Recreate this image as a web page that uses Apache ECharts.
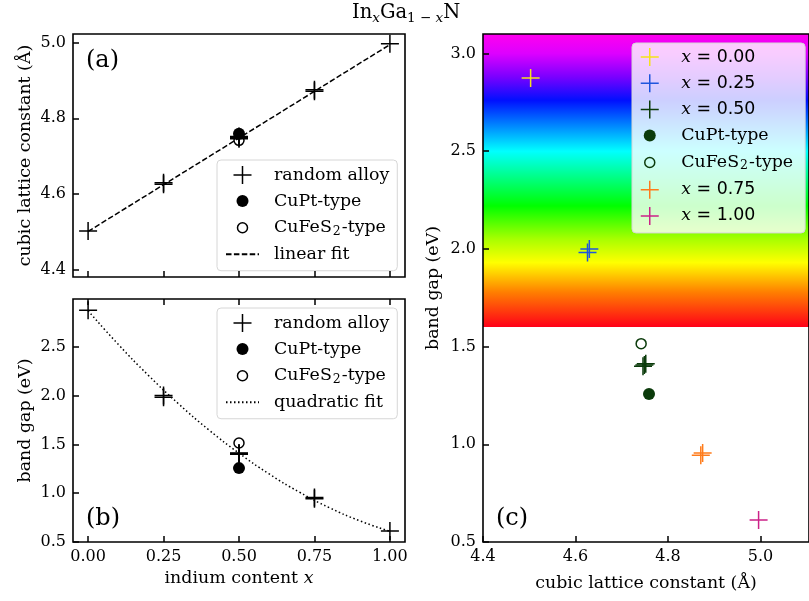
<!DOCTYPE html>
<html>
<head>
<meta charset="utf-8">
<script src="https://cdn.jsdelivr.net/npm/echarts@6.0.0/dist/echarts.min.js"></script>
<style>
html, body { margin: 0; padding: 0; background: #fff; }
#main { width: 809px; height: 601px; }
</style>
</head>
<body>
<div id="main"></div>
<script>
// indium content x and tick values
const contentTicks = [0, 0.25, 0.5, 0.75, 1.0]
const latticeTicks = [4.4, 4.6, 4.8, 5.0]
const gapTicksB = [0.5, 1.0, 1.5, 2.0, 2.5]
const gapTicksC = [0.5, 1.0, 1.5, 2.0, 2.5, 3.0]

// random alloy samples (several configs per composition)
const alloyX       = [0,     0.25,  0.25,  0.5,   0.5,   0.5,   0.75,  0.75,  1.0]
const alloyLattice = [4.503, 4.626, 4.630, 4.746, 4.749, 4.752, 4.871, 4.875, 4.996]
const alloyGap     = [2.875, 1.982, 2.000, 1.400, 1.406, 1.412, 0.944, 0.955, 0.612]

// ordered structures at x = 0.5
const cuptX = [0.5]
const cuptLattice = [4.759]
const cuptGap = [1.257]
const chalcoX = [0.5]
const chalcoLattice = [4.742]
const chalcoGap = [1.515]

// fits
const linFitX = [0, 1.0]
const linFit = [4.502, 4.994]
const quadFitX = [0, 0.1, 0.2, 0.3, 0.4, 0.5, 0.6, 0.7, 0.8, 0.9, 1.0]
const quadFit  = [2.87, 2.525, 2.207, 1.915, 1.649, 1.41, 1.197, 1.011, 0.851, 0.717, 0.61]

// panel (c) compositions
const compLabels = ['0.00', '0.25', '0.50', '0.75', '1.00']
const compColors = ['#f4e21c', '#1f55dd', '#0b3b0b', '#ff7b1a', '#cc2288']

// visible spectrum band behind panel (c)
const spectrumGap   = [3.1, 3.0, 2.88, 2.76, 2.5, 2.22, 2.05, 1.93, 1.78, 1.6]
const spectrumColor = ['#ff00ee', '#dd00ff', '#7a00ff', '#0010ff', '#00ffff', '#00ff00', '#a8ff00', '#ffff00', '#ff8000', '#ff0018']

const plusPath = 'path://M8.25,0H9.75V8.25H18V9.75H9.75V18H8.25V9.75H0V8.25H8.25Z'
const dotIcon = 'path://M0,0M18,18M3,9A6,6,0,1,0,15,9A6,6,0,1,0,3,9Z'
const ringIcon = 'path://M0,0M18,18M4,9A5,5,0,1,0,14,9A5,5,0,1,0,4,9Z'

const pts = (xs, ys) => xs.map((v, i) => [v, ys[i]])

var chart = echarts.init(document.getElementById('main'))

const font = 'DejaVu Serif'
const big = 17.4
const tickStyle = { inside: true, length: 6, lineStyle: { color: '#000', width: 1.5 } }
const labelStyle = { color: '#000', fontSize: 16, fontFamily: font, margin: 7 }
const nameStyle = { color: '#000', fontSize: big, fontFamily: font }
const noLine = { show: false, onZero: false }
const gridBox = { show: true, borderColor: '#000', borderWidth: 1.6, backgroundColor: 'transparent', z: 5 }

const legendText = {
    'random alloy': 'random alloy',
    'CuPt-type': 'CuPt-type',
    'CuFeS₂-type': '{n|CuFeS}{s|2}{n|-type}',
    'linear fit': 'linear fit',
    'quadratic fit': 'quadratic fit',
    'c CuPt': 'CuPt-type',
    'c CuFeS': '{n|CuFeS}{s|2}{n|-type}'
}
compLabels.forEach(l => { legendText['x' + l] = '{i|x}{d| = ' + l + '}' })

const legendBase = {
    orient: 'vertical',
    itemWidth: 33,
    itemHeight: 18,
    itemGap: 8,
    padding: [6, 8, 8, 8],
    backgroundColor: 'rgba(255,255,255,0.8)',
    borderColor: '#d6d6d6',
    borderWidth: 1,
    borderRadius: 4,
    selectedMode: false,
    formatter: name => legendText[name] || name,
    textStyle: {
        color: '#000', fontSize: big, fontFamily: font, padding: [0, 0, 0, 10],
        rich: {
            n: { fontSize: big, fontFamily: font, color: '#000', lineHeight: 20 },
            s: { fontSize: 12.5, fontFamily: font, color: '#000', lineHeight: 12, verticalAlign: 'bottom', padding: [0, 1, 0, 1] },
            i: { fontSize: big, fontFamily: font, fontStyle: 'italic', color: '#000' },
            d: { fontSize: big, fontFamily: 'DejaVu Sans', color: '#000' }
        }
    }
}

// panel (a)/(b) series
function panelSeries(gi, ys, fitName, fitData, fitType) {
    return [
        {
            name: fitName, type: 'line', xAxisIndex: gi, yAxisIndex: gi,
            data: fitData, showSymbol: false, symbol: 'none', smooth: fitType !== 'dash',
            itemStyle: { color: 'rgba(0,0,0,0)', borderWidth: 0 },
            lineStyle: { color: '#000', width: 1.5, type: fitType === 'dash' ? [5.5, 2.4] : [1.5, 2.5] },
            z: 1
        },
        {
            name: 'random alloy', type: 'scatter', xAxisIndex: gi, yAxisIndex: gi,
            data: pts(alloyX, ys[0]), symbol: plusPath, symbolSize: 18,
            itemStyle: { color: '#000', opacity: 1 }
        },
        {
            name: 'CuPt-type', type: 'scatter', xAxisIndex: gi, yAxisIndex: gi,
            data: pts(cuptX, ys[1]), symbol: 'circle', symbolSize: 12,
            itemStyle: { color: '#000', opacity: 1 }
        },
        {
            name: 'CuFeS₂-type', type: 'scatter', xAxisIndex: gi, yAxisIndex: gi,
            data: pts(chalcoX, ys[2]), symbol: 'circle', symbolSize: 10,
            itemStyle: { color: 'rgba(0,0,0,0)', borderColor: '#000', borderWidth: 1.5, opacity: 1 }
        }
    ]
}

let series = []
series = series.concat(panelSeries(0, [alloyLattice, cuptLattice, chalcoLattice], 'linear fit', pts(linFitX, linFit), 'dash'))
series = series.concat(panelSeries(1, [alloyGap, cuptGap, chalcoGap], 'quadratic fit', pts(quadFitX, quadFit), 'dot'))

// panel (c)
function compSeries(i) {
    const data = []
    alloyX.forEach((v, j) => {
        if (v === contentTicks[i]) data.push([alloyLattice[j], alloyGap[j]])
    })
    return {
        name: 'x' + compLabels[i], type: 'scatter', xAxisIndex: 3, yAxisIndex: 2,
        data: data, symbol: plusPath, symbolSize: 18,
        itemStyle: { color: compColors[i], opacity: 1 }
    }
}
const spectrumStops = spectrumGap.map((g, i) => ({
    offset: (spectrumGap[0] - g) / (spectrumGap[0] - spectrumGap[spectrumGap.length - 1]),
    color: spectrumColor[i]
}))
const first = compSeries(0)
first.markArea = {
    silent: true,
    itemStyle: {
        opacity: 1,
        color: { type: 'linear', x: 0, y: 0, x2: 0, y2: 1, colorStops: spectrumStops }
    },
    data: [[{ yAxis: spectrumGap[spectrumGap.length - 1] }, { yAxis: spectrumGap[0] }]]
}
series.push(first, compSeries(1), compSeries(2))
series.push({
    name: 'c CuPt', type: 'scatter', xAxisIndex: 3, yAxisIndex: 2,
    data: pts(cuptLattice, cuptGap), symbol: 'circle', symbolSize: 12,
    itemStyle: { color: compColors[2], opacity: 1 }
})
series.push({
    name: 'c CuFeS', type: 'scatter', xAxisIndex: 3, yAxisIndex: 2,
    data: pts(chalcoLattice, chalcoGap), symbol: 'circle', symbolSize: 10,
    itemStyle: { color: 'rgba(0,0,0,0)', borderColor: compColors[2], borderWidth: 1.5, opacity: 1 }
})
series.push(compSeries(3), compSeries(4))

const option = {
    animation: false,
    textStyle: { fontFamily: font },
    title: {
        text: '{m|In}{si|x}{m|Ga}{sn|1 − }{si|x}{m|N}',
        left: 352, top: 1, padding: 0,
        textStyle: {
            fontWeight: 'normal',
            rich: {
                m: { fontSize: 19.5, fontFamily: font, fontWeight: 'normal', color: '#000', lineHeight: 24 },
                si: { fontSize: 13.5, fontFamily: font, fontWeight: 'normal', fontStyle: 'italic', color: '#000', lineHeight: 13, verticalAlign: 'bottom' },
                sn: { fontSize: 13.5, fontFamily: font, fontWeight: 'normal', color: '#000', lineHeight: 13, verticalAlign: 'bottom' }
            }
        }
    },
    graphic: [
        { type: 'text', left: 86, top: 49, z: 10, style: { text: '(a)', fontSize: 24, fontFamily: font, fill: '#000' } },
        { type: 'text', left: 86, top: 507, z: 10, style: { text: '(b)', fontSize: 24, fontFamily: font, fill: '#000' } },
        { type: 'text', left: 496, top: 507, z: 10, style: { text: '(c)', fontSize: 24, fontFamily: font, fill: '#000' } }
    ],
    grid: [
        Object.assign({ left: 73, top: 34, width: 332, height: 243 }, gridBox),
        Object.assign({ left: 73, top: 299, width: 332, height: 243 }, gridBox),
        Object.assign({ left: 483, top: 34, width: 332, height: 508 }, gridBox)
    ],
    xAxis: [
        {
            gridIndex: 0, type: 'value', min: -0.05, max: 1.05, z: 6,
            axisLine: noLine, splitLine: { show: false },
            axisTick: Object.assign({ customValues: contentTicks }, tickStyle),
            axisLabel: { show: false }
        },
        {
            gridIndex: 1, type: 'value', min: -0.05, max: 1.05, z: 6,
            axisLine: noLine, splitLine: { show: false },
            axisTick: Object.assign({ customValues: contentTicks }, tickStyle),
            axisLabel: Object.assign({ customValues: contentTicks, formatter: v => v.toFixed(2) }, labelStyle),
            name: '{t|indium content }{i|x}', nameLocation: 'middle', nameGap: 28,
            nameTextStyle: Object.assign({
                rich: {
                    t: { fontSize: big, fontFamily: font, color: '#000' },
                    i: { fontSize: big, fontFamily: font, fontStyle: 'italic', color: '#000' }
                }
            }, nameStyle)
        },
        {
            gridIndex: 1, type: 'value', min: -0.05, max: 1.05, position: 'top', z: 6,
            axisLine: noLine, splitLine: { show: false },
            axisTick: Object.assign({ customValues: contentTicks }, tickStyle),
            axisLabel: { show: false }
        },
        {
            gridIndex: 2, type: 'value', min: 4.4, max: 5.105, z: 6,
            axisLine: noLine, splitLine: { show: false },
            axisTick: Object.assign({ customValues: latticeTicks }, tickStyle),
            axisLabel: Object.assign({ customValues: latticeTicks, formatter: v => v.toFixed(1) }, labelStyle),
            name: 'cubic lattice constant (Å)', nameLocation: 'middle', nameGap: 33,
            nameTextStyle: nameStyle
        }
    ],
    yAxis: [
        {
            gridIndex: 0, type: 'value', min: 4.382, max: 5.022, z: 6,
            axisLine: noLine, splitLine: { show: false },
            axisTick: Object.assign({ customValues: latticeTicks }, tickStyle),
            axisLabel: Object.assign({ customValues: latticeTicks, formatter: v => v.toFixed(1) }, labelStyle),
            name: 'cubic lattice constant (Å)', nameLocation: 'middle', nameGap: 39,
            nameTextStyle: nameStyle
        },
        {
            gridIndex: 1, type: 'value', min: 0.5, max: 2.99, z: 6,
            axisLine: noLine, splitLine: { show: false },
            axisTick: Object.assign({ customValues: gapTicksB }, tickStyle),
            axisLabel: Object.assign({ customValues: gapTicksB, formatter: v => v.toFixed(1) }, labelStyle),
            name: 'band gap (eV)', nameLocation: 'middle', nameGap: 39,
            nameTextStyle: nameStyle
        },
        {
            gridIndex: 2, type: 'value', min: 0.5, max: 3.1, z: 6,
            axisLine: noLine, splitLine: { show: false },
            axisTick: Object.assign({ customValues: gapTicksC }, tickStyle),
            axisLabel: Object.assign({ customValues: gapTicksC, formatter: v => v.toFixed(1) }, labelStyle),
            name: 'band gap (eV)', nameLocation: 'middle', nameGap: 41,
            nameTextStyle: nameStyle
        }
    ],
    legend: [
        Object.assign({}, legendBase, {
            left: 217, top: 160,
            data: [
                { name: 'random alloy', icon: plusPath },
                { name: 'CuPt-type', icon: dotIcon },
                { name: 'CuFeS₂-type', icon: ringIcon, itemStyle: { borderWidth: 1.5 } },
                { name: 'linear fit' }
            ]
        }),
        Object.assign({}, legendBase, {
            left: 217, top: 308,
            data: [
                { name: 'random alloy', icon: plusPath },
                { name: 'CuPt-type', icon: dotIcon },
                { name: 'CuFeS₂-type', icon: ringIcon, itemStyle: { borderWidth: 1.5 } },
                { name: 'quadratic fit' }
            ]
        }),
        Object.assign({}, legendBase, {
            left: 632, top: 43, padding: [5, 12, 8, 8], itemGap: 8.2,
            data: [
                { name: 'x0.00', icon: plusPath },
                { name: 'x0.25', icon: plusPath },
                { name: 'x0.50', icon: plusPath },
                { name: 'c CuPt', icon: dotIcon },
                { name: 'c CuFeS', icon: ringIcon, itemStyle: { borderWidth: 1.5 } },
                { name: 'x0.75', icon: plusPath },
                { name: 'x1.00', icon: plusPath }
            ]
        })
    ],
    series: series
}

option && chart.setOption(option)
</script>
</body>
</html>
